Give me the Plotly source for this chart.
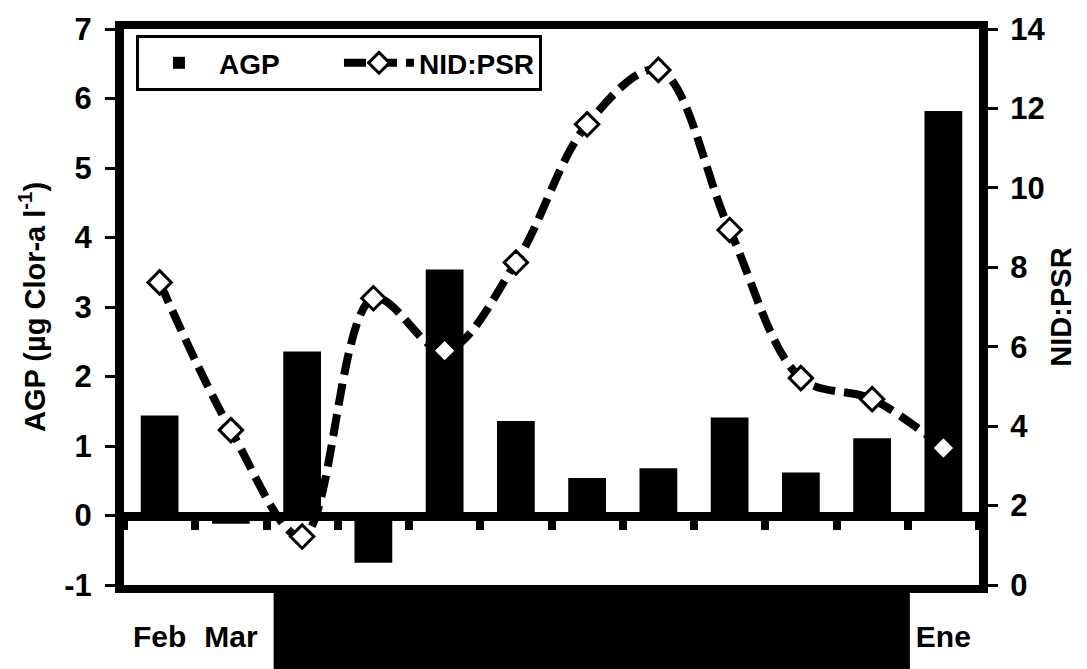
import plotly.graph_objects as go

months = ["Feb", "Mar", "Abr", "May", "Jun", "Jul", "Ago", "Sep", "Oct", "Nov", "Dic", "Ene"]
agp = [1.44, -0.12, 2.36, -0.68, 3.54, 1.36, 0.54, 0.68, 1.41, 0.62, 1.11, 5.82]
nid_psr = [7.62, 3.90, 1.22, 7.22, 5.90, 8.12, 11.60, 12.97, 8.94, 5.21, 4.68, 3.45]

left_tickvals = [-1, 0, 1, 2, 3, 4, 5, 6, 7]
left_ticktext = ["-1", "0", "1", "2", "3", "4", "5", "6", "7"]
right_tickvals = [0, 2, 4, 6, 8, 10, 12, 14]
right_ticktext = ["0", "2", "4", "6", "8", "10", "12", "14"]

FONT = "Liberation Sans, Arial, sans-serif"

# The page body has an 8px default margin, so the figure is sized to fit.
W, H = 1079, 661

fig = go.Figure()
fig.add_trace(go.Bar(
    x=months, y=agp, name="AGP", xaxis="x", yaxis="y",
    marker=dict(color="black", line=dict(width=0)),
))
fig.add_trace(go.Scatter(
    x=months, y=nid_psr, name="NID:PSR", xaxis="x2", yaxis="y2",
    mode="lines+markers",
    line=dict(color="black", width=8, dash="22px,9px", shape="spline", smoothing=1.0),
    marker=dict(symbol="diamond", size=18, color="white", line=dict(color="black", width=3)),
))

fig.update_layout(
    width=W, height=H,
    margin=dict(l=116, r=108, t=21, b=84, pad=0, autoexpand=False),
    plot_bgcolor="white", paper_bgcolor="white",
    bargap=0.47,
    showlegend=True,
    legend=dict(
        orientation="h", x=0.014, y=0.989, xanchor="left", yanchor="top",
        bordercolor="black", borderwidth=3, bgcolor="white",
        font=dict(family=FONT, size=28, color="black", weight="bold"),
        itemwidth=70, entrywidth=115, traceorder="normal",
    ),
    xaxis=dict(
        type="category", categoryorder="array", categoryarray=months,
        range=[-0.5, 11.5], showline=True, linecolor="black", linewidth=8,
        mirror=True, ticks="", showgrid=False, zeroline=False, automargin=False,
        tickfont=dict(family=FONT, size=30, color="black", weight="bold"),
        ticklabelstandoff=18,
    ),
    xaxis2=dict(
        type="category", overlaying="x", matches="x", anchor="free", position=0.125,
        showline=True, linecolor="black", linewidth=9,
        ticks="outside", tickson="boundaries", ticklen=9, tickwidth=8, tickcolor="black",
        showticklabels=False, showgrid=False, zeroline=False, automargin=False,
    ),
    yaxis=dict(
        range=[-1, 7], tickvals=left_tickvals, ticktext=left_ticktext,
        showline=True, linecolor="black", linewidth=9,
        ticks="outside", ticklen=10, tickwidth=3, tickcolor="black",
        showgrid=False, zeroline=False, automargin=False,
        tickfont=dict(family=FONT, size=31, color="black", weight="bold"),
        ticklabelstandoff=7,
        title=dict(text="AGP (µg Clor-a l<sup>-1</sup>)",
                   font=dict(family=FONT, size=29, color="black", weight="bold"), standoff=14),
    ),
    yaxis2=dict(
        range=[0, 14], tickvals=right_tickvals, ticktext=right_ticktext,
        overlaying="y", side="right", anchor="x",
        showline=True, linecolor="black", linewidth=9,
        ticks="outside", ticklen=10, tickwidth=3, tickcolor="black",
        showgrid=False, zeroline=False, automargin=False,
        tickfont=dict(family=FONT, size=31, color="black", weight="bold"),
        ticklabelstandoff=6,
        title=dict(text="NID:PSR", font=dict(family=FONT, size=29, color="black", weight="bold"), standoff=10),
    ),
    shapes=[dict(
        type="rect", xref="x", yref="paper", x0=1.6, x1=10.53, y0=-0.17, y1=-0.006,
        fillcolor="black", line=dict(width=0), layer="above",
    )],
)

fig.write_html("out.html")
